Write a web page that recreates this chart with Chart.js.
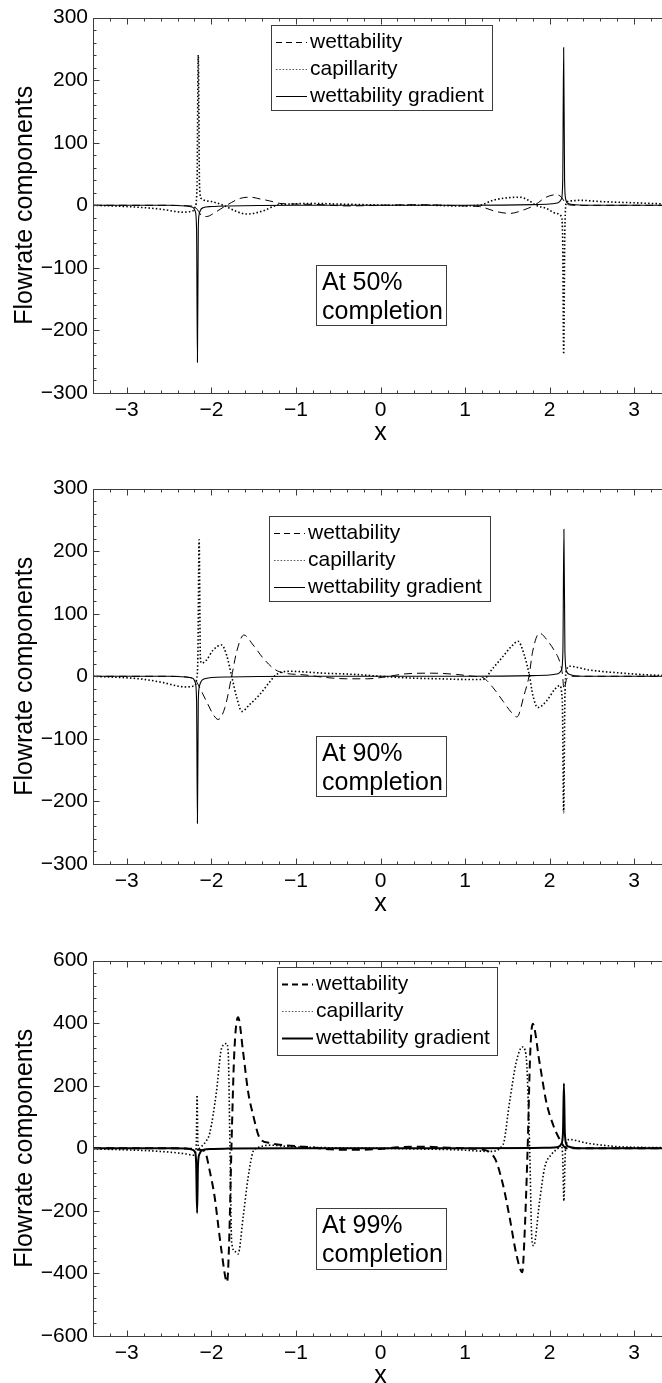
<!DOCTYPE html>
<html><head><meta charset="utf-8">
<script src="https://cdn.jsdelivr.net/npm/chart.js@4.4.1/dist/chart.umd.min.js"></script>
<style>
html,body{margin:0;padding:0;background:#fff;overflow:hidden;width:662px;height:1383px;position:relative}
.wrap{position:absolute;left:0;width:670px;height:440px}
canvas{display:block}
</style></head><body>
<div class="wrap" style="top:0px"><canvas id="c1" width="670" height="440"></canvas></div>
<div class="wrap" style="top:471px"><canvas id="c2" width="670" height="440"></canvas></div>
<div class="wrap" style="top:943px"><canvas id="c3" width="670" height="440"></canvas></div>
<script>
// ---------- tick labels / text ----------
const xTicks = [-3, -2, -1, 0, 1, 2, 3];
const yTicks300 = [-300, -200, -100, 0, 100, 200, 300];
const yTicks600 = [-600, -400, -200, 0, 200, 400, 600];
const seriesLabels = ['wettability', 'capillarity', 'wettability gradient'];
const panelNotes = [['At 50%', 'completion'], ['At 90%', 'completion'], ['At 99%', 'completion']];
const yTitle = 'Flowrate components';
const xTitle = 'x';

// ---------- Panel 1 : 50% ----------
const p1WetX = [-3.4, -2.6, -2.25, -2.19, -2.15, -2.12, -2.06, -1.94, -1.82, -1.66, -1.54, -1.42, -1.31, -1.19, -1.0, -0.7, -0.4, 0, 0.4, 0.8, 1.0, 1.17, 1.37, 1.53, 1.68, 1.82, 1.96, 2.08, 2.14, 2.18, 2.22, 2.3, 2.6, 3.4];
const p1WetY = [0, 0, -1, -3, -10, -16, -18, -10, 0, 11, 13, 10, 7, 3, 2, 1, -1, 0, 1, 0, -1, -2, -10, -13, -8, 0, 13, 17, 13, 5, 1, 0, 0, 0];
const p1CapX = [-3.4, -3.0, -2.61, -2.33, -2.22, -2.19, -2.17, -2.155, -2.14, -2.12, -2.0, -1.86, -1.70, -1.585, -1.39, -1.23, -1.07, -0.8, -0.5, -0.2, 0.2, 0.6, 0.9, 1.17, 1.33, 1.50, 1.645, 1.75, 1.84, 1.96, 2.08, 2.14, 2.155, 2.166, 2.18, 2.2, 2.25, 2.35, 2.6, 3.0, 3.4];
const p1CapY = [0, -2, -6, -11, -9, -2, 30, 240, 30, 11, 6, 0, -10, -14, -9, 0, 2, 3, 2, 1, 0, 0, -1, 0, 8, 12, 13, 8, 0, -5, -13, -18, -60, -238, -40, 5, 7, 8, 6, 4, 2];
const p1GradX = [-3.4, -2.5, -2.3, -2.22, -2.19, -2.175, -2.165, -2.155, -2.145, -2.13, -2.1, -2.0, -1.8, -1.0, 0, 1.0, 1.8, 2.0, 2.1, 2.14, 2.155, 2.166, 2.177, 2.19, 2.22, 2.3, 2.5, 3.4];
const p1GradY = [0, 0, -1, -3, -10, -40, -251, -40, -15, -8, -4, -2, -1, 0, 0, 0, 1, 2, 4, 10, 40, 252, 40, 10, 3, 1, 0, 0];

// ---------- Panel 2 : 90% ----------
const p2WetX = [-3.4, -2.5, -2.25, -2.18, -2.117, -2.04, -1.979, -1.92, -1.84, -1.76, -1.70, -1.616, -1.506, -1.388, -1.27, -1.19, -0.88, -0.64, -0.4, -0.15, 0.1, 0.3, 0.6, 0.9, 1.1, 1.21, 1.33, 1.45, 1.55, 1.614, 1.70, 1.756, 1.80, 1.88, 1.98, 2.06, 2.118, 2.15, 2.17, 2.2, 2.25, 2.5, 3.4];
const p2WetY = [0, 0, -2, -8, -24, -45, -61, -69, -50, 0, 40, 66, 50, 29, 13, 7, 2, -2, -4, -4, 0, 4, 5, 3, 0, -2, -18, -40, -58, -65, -29, 0, 40, 69, 56, 40, 24, 5, -20, -5, 0, 0, 0];
const p2CapX = [-3.4, -2.85, -2.61, -2.3, -2.2, -2.175, -2.16, -2.145, -2.13, -2.117, -2.058, -1.979, -1.88, -1.82, -1.76, -1.70, -1.64, -1.546, -1.427, -1.31, -1.23, -1.07, -0.68, -0.3, 0, 0.4, 0.7, 1.0, 1.21, 1.33, 1.45, 1.55, 1.626, 1.70, 1.763, 1.80, 1.86, 1.96, 2.06, 2.118, 2.15, 2.166, 2.18, 2.2, 2.236, 2.47, 2.87, 3.06, 3.4];
const p2CapY = [0, -4, -9, -17, -15, -5, 30, 218, 30, 21, 26, 42, 50, 34, 0, -34, -56, -45, -29, -9, 3, 8, 5, 3, 0, -3, -4, -5, -5, 13, 32, 48, 56, 34, 0, -29, -50, -40, -21, -15, -40, -218, -40, 10, 16, 10, 5, 3, 1];
const p2GradX = [-3.4, -2.5, -2.3, -2.22, -2.19, -2.175, -2.165, -2.155, -2.14, -2.12, -2.08, -2.0, -1.8, -1.0, 0, 1.0, 1.8, 2.0, 2.1, 2.14, 2.157, 2.169, 2.181, 2.2, 2.24, 2.3, 2.5, 3.4];
const p2GradY = [0, 0, -1, -3, -10, -40, -235, -40, -15, -8, -4, -2, -1, 0, 0, 0, 1, 2, 4, 10, 40, 235, 40, 8, 3, 1, 0, 0];

// ---------- Panel 3 : 99% ----------
const p3WetX = [-3.4, -2.5, -2.2, -2.14, -2.078, -2.019, -1.96, -1.921, -1.881, -1.814, -1.79, -1.763, -1.73, -1.684, -1.625, -1.566, -1.507, -1.428, -1.31, -1.15, -0.9, -0.6, -0.3, 0, 0.2, 0.5, 0.8, 1.0, 1.17, 1.35, 1.448, 1.527, 1.606, 1.677, 1.70, 1.74, 1.77, 1.80, 1.88, 1.96, 2.04, 2.12, 2.2, 2.3, 2.6, 3.4];
const p3WetY = [0, 0, -2, -5, -10, -73, -158, -242, -327, -428, -300, 0, 300, 419, 308, 181, 107, 33, 17, 10, 5, -3, -5, -2, 3, 5, 2, 0, -3, -31, -116, -221, -338, -396, -300, 0, 300, 398, 276, 149, 76, 28, 0, 0, 0, 0];
const p3CapX = [-3.4, -3.0, -2.6, -2.3, -2.22, -2.19, -2.178, -2.169, -2.16, -2.145, -2.12, -2.07, -2.019, -1.94, -1.881, -1.82, -1.80, -1.78, -1.76, -1.72, -1.684, -1.625, -1.566, -1.507, -1.467, -1.3, -1.1, -0.8, -0.4, 0, 0.4, 0.8, 1.0, 1.29, 1.448, 1.527, 1.606, 1.677, 1.72, 1.764, 1.79, 1.811, 1.882, 1.941, 2.02, 2.10, 2.138, 2.155, 2.169, 2.183, 2.2, 2.236, 2.434, 2.83, 3.4];
const p3CapY = [-2, -5, -10, -18, -22, -15, 20, 170, 20, 0, 5, 20, 49, 181, 318, 335, 300, 0, -300, -330, -338, -221, -94, -10, 0, 10, 6, 3, 1, 0, -2, -4, -6, -10, 11, 149, 276, 324, 300, 0, -290, -311, -168, -62, -20, 0, 10, -30, -168, -30, 15, 28, 17, 5, 2];
const p3GradX = [-3.4, -2.5, -2.3, -2.22, -2.19, -2.18, -2.169, -2.158, -2.14, -2.12, -2.08, -2.0, -1.8, -1.0, 0, 1.0, 1.8, 2.0, 2.1, 2.14, 2.158, 2.169, 2.18, 2.2, 2.24, 2.3, 2.5, 3.4];
const p3GradY = [0, 0, -1, -5, -15, -50, -207, -50, -18, -8, -4, -2, -1, 0, 0, 0, 1, 2, 4, 15, 50, 207, 50, 12, 4, 1, 0, 0];

// ---------- rendering ----------
const FONT = '"Liberation Sans", Arial, Helvetica, sans-serif';
const AXIS_COLOR = '#3c3c3c';
const fmt = v => String(v).replace('-', '\u2212');
const pts = (xs, ys) => xs.map((x, i) => ({ x: x, y: ys[i] }));

const framePlugin = {
  id: 'frame',
  afterDraw(chart, args, o) {
    const { ctx, chartArea: { left, right, top, bottom }, scales: { x, y } } = chart;
    const L = Math.round(left) + 0.5, R = Math.round(right) + 0.5, T = Math.round(top) + 0.5, B = Math.round(bottom) + 0.5;
    ctx.save();
    ctx.strokeStyle = AXIS_COLOR; ctx.lineWidth = 1;
    ctx.beginPath();
    ctx.moveTo(L, T); ctx.lineTo(R, T); ctx.lineTo(R, B); ctx.lineTo(L, B); ctx.closePath();
    for (let k = Math.ceil(x.min * 5 - 1e-9); k <= Math.floor(x.max * 5 + 1e-9); k++) {
      const px = Math.round(x.getPixelForValue(k / 5)) + 0.5;
      const len = (k % 5 === 0) ? 6 : 3;
      ctx.moveTo(px, B); ctx.lineTo(px, B - len);
      ctx.moveTo(px, T); ctx.lineTo(px, T + len);
    }
    const step = o.yStep / 5;
    for (let k = Math.ceil(y.min / step - 1e-9); k <= Math.floor(y.max / step + 1e-9); k++) {
      const py = Math.round(y.getPixelForValue(k * step)) + 0.5;
      const len = (k % 5 === 0) ? 6 : 3;
      ctx.moveTo(L, py); ctx.lineTo(L + len, py);
      ctx.moveTo(R, py); ctx.lineTo(R - len, py);
    }
    ctx.stroke();
    ctx.restore();
  }
};

const boxesPlugin = {
  id: 'boxes',
  afterDraw(chart, args, o) {
    const ctx = chart.ctx;
    ctx.save();
    const b = o.legend;
    ctx.fillStyle = '#fff'; ctx.fillRect(b.x, b.y, b.w, b.h);
    ctx.strokeStyle = AXIS_COLOR; ctx.lineWidth = 1; ctx.setLineDash([]);
    ctx.strokeRect(b.x + 0.5, b.y + 0.5, b.w, b.h);
    ctx.font = '21px ' + FONT; ctx.textBaseline = 'middle'; ctx.textAlign = 'left';
    chart.data.datasets.forEach((ds, i) => {
      const yy = Math.round(b.y + 17 + i * 27) + 0.5;
      ctx.strokeStyle = ds.legendColor || ds.borderColor; ctx.lineWidth = ds.legendWidth || ds.borderWidth;
      ctx.setLineDash(ds.legendDash || []);
      ctx.beginPath(); ctx.moveTo(b.x + 5, yy); ctx.lineTo(b.x + 36, yy); ctx.stroke();
      ctx.setLineDash([]);
      ctx.fillStyle = '#000';
      ctx.fillText(ds.label, b.x + 39, yy);
    });
    const n = o.note;
    ctx.fillStyle = '#fff'; ctx.fillRect(n.x, n.y, n.w, n.h);
    ctx.strokeStyle = AXIS_COLOR; ctx.lineWidth = 1;
    ctx.strokeRect(n.x + 0.5, n.y + 0.5, n.w, n.h);
    ctx.fillStyle = '#000'; ctx.font = '25px ' + FONT;
    n.lines.forEach((t, i) => ctx.fillText(t, n.x + 6, n.y + 18 + i * 29));
    ctx.restore();
  }
};

function makePanel(id, wet, cap, grad, yTicks, thick, legendBox, note) {
  const yStep = yTicks[1] - yTicks[0];
  const lw = thick ? 2 : 1;
  const ds = (label, data, width, dash, legendDash, legendWidth, legendColor) => ({
    label: label, data: data, borderColor: '#000', borderWidth: width, borderDash: dash,
    legendDash: legendDash, legendWidth: legendWidth, legendColor: legendColor,
    pointRadius: 0, fill: false, cubicInterpolationMode: 'monotone'
  });
  new Chart(document.getElementById(id), {
    type: 'line',
    data: {
      datasets: [
        ds(seriesLabels[0], pts(wet[0], wet[1]), lw, thick ? [8, 5] : [8, 5], [6, 4], lw),
        ds(seriesLabels[1], pts(cap[0], cap[1]), 1.6, [1.5, 2.2], [1.5, 1.8], 1.2, '#555'),
        ds(seriesLabels[2], pts(grad[0], grad[1]), thick ? 2 : 1.1, [], [], thick ? 2 : 1)
      ]
    },
    options: {
      responsive: false, animation: false, events: [],
      layout: { padding: { top: 15, right: 2, left: 0, bottom: 0 } },
      plugins: {
        legend: { display: false }, tooltip: { enabled: false },
        frame: { yStep: yStep },
        boxes: { legend: legendBox, note: note }
      },
      scales: {
        x: {
          type: 'linear', min: -3.4, max: 3.4,
          grid: { display: false, drawTicks: false }, border: { display: false },
          afterBuildTicks: s => { s.ticks = xTicks.map(v => ({ value: v })); },
          afterFit: s => { s.height = 47; },
          ticks: { font: { family: FONT, size: 21 }, color: '#000', padding: 5, maxRotation: 0, autoSkip: false, callback: v => fmt(v) },
          title: { display: true, text: xTitle, color: '#000', font: { family: FONT, size: 25, lineHeight: 1 }, padding: { top: 0, bottom: -6 } }
        },
        y: {
          type: 'linear', min: yTicks[0], max: yTicks[yTicks.length - 1],
          grid: { display: false, drawTicks: false }, border: { display: false },
          afterBuildTicks: s => { s.ticks = yTicks.map(v => ({ value: v })); },
          afterFit: s => { s.width = 93; },
          ticks: { font: { family: FONT, size: 21 }, color: '#000', padding: 5, autoSkip: false, callback: v => fmt(v) },
          title: { display: true, text: yTitle, color: '#000', font: { family: FONT, size: 25, lineHeight: 1 }, padding: { top: 13, bottom: 0 } }
        }
      }
    },
    plugins: [framePlugin, boxesPlugin]
  });
}

makePanel('c1', [p1WetX, p1WetY], [p1CapX, p1CapY], [p1GradX, p1GradY], yTicks300, false,
  { x: 271, y: 25, w: 221, h: 85 }, { x: 316, y: 265, w: 130, h: 60, lines: panelNotes[0] });
makePanel('c2', [p2WetX, p2WetY], [p2CapX, p2CapY], [p2GradX, p2GradY], yTicks300, false,
  { x: 269, y: 45, w: 221, h: 85 }, { x: 316, y: 265, w: 130, h: 60, lines: panelNotes[1] });
makePanel('c3', [p3WetX, p3WetY], [p3CapX, p3CapY], [p3GradX, p3GradY], yTicks600, true,
  { x: 277, y: 24, w: 220, h: 88 }, { x: 316, y: 265, w: 130, h: 61, lines: panelNotes[2] });
</script>
</body></html>
